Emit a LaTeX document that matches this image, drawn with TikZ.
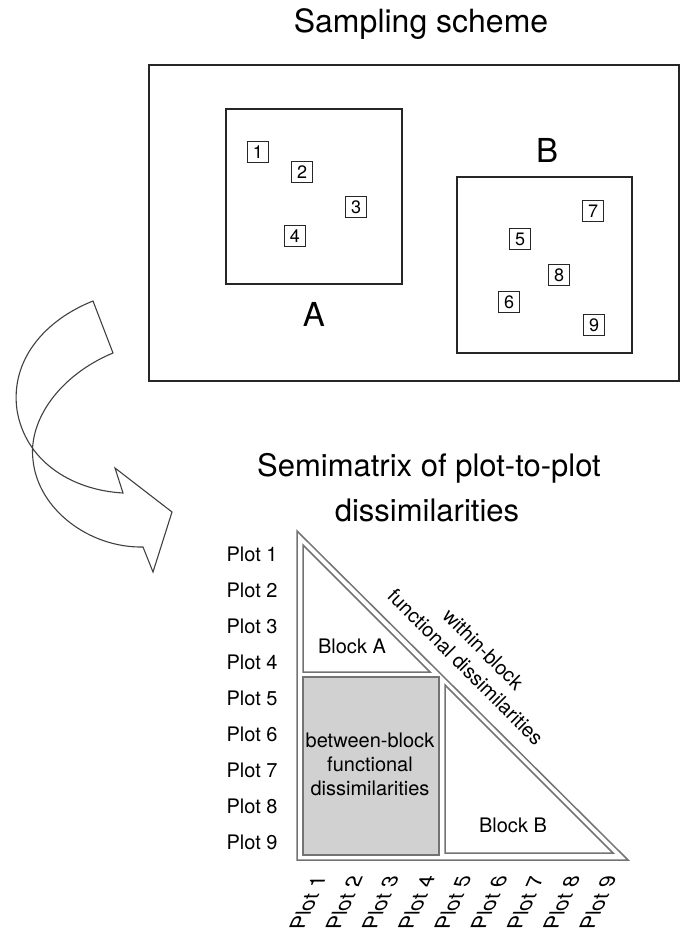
\documentclass[tikz,border=0pt]{standalone}
\usepackage{fontspec}
\setmainfont{TeX Gyre Heros}
\begin{document}
\begin{tikzpicture}[x=1pt,y=-1pt,
  frame/.style={draw=black!85,line width=1.7pt},
  plotbox/.style={draw=black!85,line width=1.3pt,minimum size=21pt,inner sep=0pt,
    font=\fontsize{18}{18}\selectfont},
  blocklabel/.style={font=\fontsize{33}{33}\selectfont},
  title/.style={anchor=base,font=\fontsize{32}{36}\selectfont},
  tri/.style={draw=black!55,line width=1.5pt,line join=miter},
  cell/.style={font=\fontsize{20}{24}\selectfont,align=center},
  rowlab/.style={anchor=west,font=\fontsize{20}{20}\selectfont},
  collab/.style={font=\fontsize{21}{21}\selectfont,cm={0.44,1,-1,0,(0,0)}},
  ribbon/.style={draw=black!75,line width=1.1pt,line join=miter}]
\useasboundingbox (0,0) rectangle (681,931);

% ---- sampling scheme ----
\node[title] (t1) at (421,33) {Sampling scheme};
\draw[frame] (149,65) rectangle (679,381);
\draw[frame] (226,109) rectangle (402,284);
\draw[frame] (457,177) rectangle (632,353);
\node[blocklabel] (labA) at (314,314) {A};
\node[blocklabel] (labB) at (547,150) {B};

\node[plotbox] (p1) at (258,152) {1};
\node[plotbox] (p2) at (302,172) {2};
\node[plotbox] (p3) at (356,207) {3};
\node[plotbox] (p4) at (295,236) {4};
\node[plotbox] (p5) at (520,239) {5};
\node[plotbox] (p6) at (509,302) {6};
\node[plotbox] (p7) at (593,211) {7};
\node[plotbox] (p8) at (559,275) {8};
\node[plotbox] (p9) at (594,325) {9};

% ---- twisted ribbon arrow ----
\draw[ribbon] (113,353) .. controls (60,375) and (28,420) .. (33,460)
  .. controls (38,510) and (90,548) .. (143,547)
  -- (153,572) -- (172,512) -- (115,468) -- (123,493)
  .. controls (70,490) and (25,460) .. (17,410)
  .. controls (10,360) and (45,320) .. (93,301) -- cycle;

% ---- semimatrix ----
\node[title,font=\fontsize{31}{36}\selectfont] (t2) at (429,476) {Semimatrix of plot-to-plot};
\node[title,font=\fontsize{31}{36}\selectfont] (t3) at (427,521) {dissimilarities};

\draw[tri] (297,531) -- (297,860) -- (628,860) -- cycle;
\draw[tri] (303,545) -- (303,672) -- (430,672) -- cycle;
\draw[tri,fill=black!18] (303,677) rectangle (439,855);
\draw[tri] (445,685) -- (445,853) -- (613,853) -- cycle;

\node[cell] (bA) at (352,646) {Block A};
\node[cell] (bB) at (513,825) {Block B};
\node[cell] (bAB) at (370,764) {between-block\\functional\\dissimilarities};
\node[cell,rotate=-45,font=\fontsize{20}{25}\selectfont] (within) at (474.5,658)
  {within-block\\functional dissimilarities};

\foreach \k in {1,...,9}{
  \node[rowlab] (r\k) at (223,{554+36*(\k-1)}) {Plot \k};
  \node[collab] (c\k) at ({308+36.25*(\k-1)},903) {Plot \k};
}
\end{tikzpicture}
\end{document}
